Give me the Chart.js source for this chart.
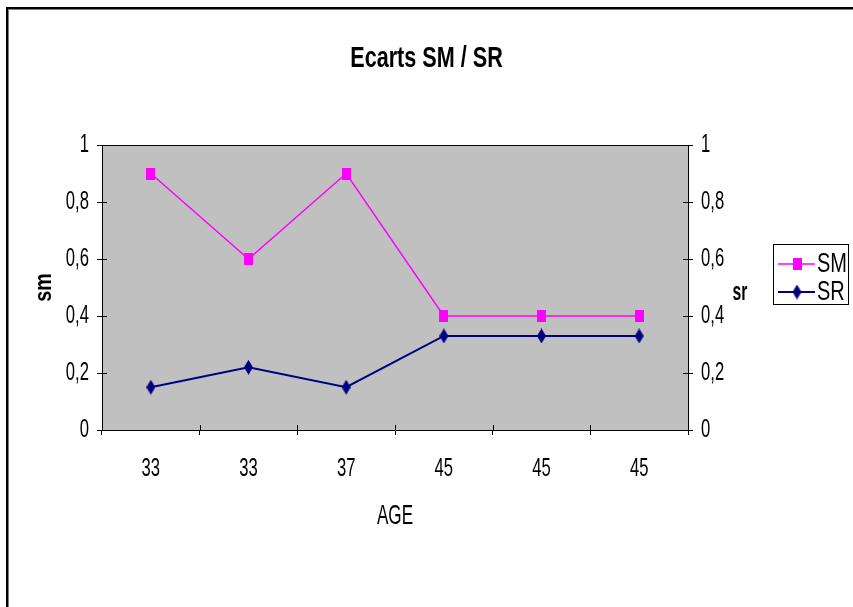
<!DOCTYPE html>
<html>
<head>
<meta charset="utf-8">
<script src="https://cdn.jsdelivr.net/npm/chart.js@4/dist/chart.umd.min.js"></script>
<style>
  html, body { margin: 0; padding: 0; background: #fff; }
  canvas { display: block; }
</style>
</head>
<body>
<canvas id="myChart" width="853" height="607"></canvas>
<script>
const ageLabels = ["33", "33", "37", "45", "45", "45"];
const smValues = [0.9, 0.6, 0.9, 0.4, 0.4, 0.4];
const srValues = [0.15, 0.22, 0.15, 0.33, 0.33, 0.33];
const yTickLabels = ["0", "0,2", "0,4", "0,6", "0,8", "1"];
const seriesNames = ["SM", "SR"];

const smColor = '#ff00ff'
const srColor = '#000080'
const plotGray = '#c0c0c0'
const fontName = '"Liberation Sans", Arial, sans-serif'

// no narrow font installed: squeeze text horizontally around its anchor,
// amount picked by font size (each text kind has its own size)
const squashBySize = { 30: 0.72, 26: 0.64, 28: 0.61, 27: 0.74, 25: 0.63, 24: 0.82 }
const canvas = document.getElementById('myChart')
const ctx2d = canvas.getContext('2d')
const plainFillText = ctx2d.fillText.bind(ctx2d)
ctx2d.fillText = function (text, x, y) {
  const m = /(\d+)px/.exec(this.font)
  const sx = (m && squashBySize[m[1]]) || 0.7
  this.save()
  this.translate(x, y)
  this.scale(sx, 1)
  plainFillText(text, 0, 0)
  this.restore()
}

// excel-like markers, a bit taller than wide
function squareMarker(color) {
  const c = document.createElement('canvas')
  c.width = 9; c.height = 12
  const ctx = c.getContext('2d')
  ctx.fillStyle = color
  ctx.fillRect(0, 0, 9, 12)
  return c
}
function diamondMarker(color) {
  const c = document.createElement('canvas')
  c.width = 9; c.height = 15
  const ctx = c.getContext('2d')
  ctx.fillStyle = color
  ctx.beginPath()
  ctx.moveTo(4.5, 0); ctx.lineTo(9, 7.5); ctx.lineTo(4.5, 15); ctx.lineTo(0, 7.5)
  ctx.closePath()
  ctx.fill()
  return c
}

const pageFrame = {
  id: 'pageFrame',
  beforeDraw(chart) {
    const {ctx, chartArea: a} = chart
    ctx.save()
    ctx.fillStyle = '#000'
    ctx.fillRect(6, 7, chart.width, 2)
    ctx.fillRect(6, 7, 2, chart.height)
    ctx.fillStyle = '#808080'
    ctx.fillRect(8, 9, chart.width, 1)
    ctx.fillRect(8, 9, 1, chart.height)
    ctx.fillStyle = plotGray
    ctx.fillRect(a.left, a.top, a.right - a.left, a.bottom - a.top)
    ctx.restore()
  }
}

const plotEdges = {
  id: 'plotEdges',
  beforeDatasetsDraw(chart) {
    const {ctx, chartArea: a, scales} = chart
    ctx.save()
    ctx.strokeStyle = '#000'
    ctx.lineWidth = 1
    ctx.beginPath()
    ctx.moveTo(a.left, Math.round(a.top) + 0.5)
    ctx.lineTo(a.right, Math.round(a.top) + 0.5)
    const step = (a.right - a.left) / ageLabels.length
    for (let i = 1; i < ageLabels.length; i++) {
      const x = Math.round(a.left + i * step) + 0.5
      ctx.moveTo(x, a.bottom)
      ctx.lineTo(x, a.bottom - 5)
    }
    scales.y.ticks.forEach(t => {
      const y = Math.round(scales.y.getPixelForValue(t.value)) + 0.5
      ctx.moveTo(a.left, y); ctx.lineTo(a.left + 5, y)
      ctx.moveTo(a.right, y); ctx.lineTo(a.right - 5, y)
    })
    ctx.stroke()
    ctx.restore()
  }
}

const boxLegend = {
  id: 'boxLegend',
  afterDraw(chart) {
    const {ctx, chartArea: a} = chart
    const bx = a.right + 85, by = 244
    const midY = (a.top + a.bottom) / 2
    ctx.save()
    ctx.fillStyle = '#fff'
    ctx.fillRect(bx, by, 75, 60)
    ctx.strokeStyle = '#000'
    ctx.lineWidth = 1
    ctx.strokeRect(bx + 0.5, by + 0.5, 75, 60)
    chart.data.datasets.forEach((ds, i) => {
      const y = by + 20 + i * 28
      ctx.strokeStyle = ds.borderColor
      ctx.lineWidth = ds.borderWidth
      ctx.beginPath()
      ctx.moveTo(bx + 5, y); ctx.lineTo(bx + 42, y)
      ctx.stroke()
      ctx.drawImage(ds.pointStyle, bx + 24 - ds.pointStyle.width / 2, y - ds.pointStyle.height / 2)
      ctx.fillStyle = '#000'
      ctx.font = '27px ' + fontName
      ctx.textBaseline = 'middle'
      ctx.textAlign = 'left'
      ctx.fillText(ds.label, bx + 44, y + 1)
    })
    // axis titles: sm reads upward, sr stays upright
    ctx.textAlign = 'center'
    ctx.font = 'bold 25px ' + fontName
    ctx.fillText('sr', a.right + 52, midY + 6)
    ctx.font = 'bold 24px ' + fontName
    ctx.translate(44, midY)
    ctx.rotate(-Math.PI / 2)
    ctx.fillText('sm', 0, 0)
    ctx.restore()
  }
}

const tickFont = { family: fontName, size: 26 }

new Chart("myChart", {
  type: "line",
  data: {
    labels: ageLabels,
    datasets: [{
      label: seriesNames[0],
      data: smValues,
      borderColor: smColor,
      backgroundColor: smColor,
      borderWidth: 1.5,
      pointStyle: squareMarker(smColor),
      tension: 0,
      yAxisID: 'y'
    }, {
      label: seriesNames[1],
      data: srValues,
      borderColor: srColor,
      backgroundColor: srColor,
      borderWidth: 2,
      pointStyle: diamondMarker(srColor),
      tension: 0,
      yAxisID: 'y2'
    }]
  },
  plugins: [pageFrame, plotEdges, boxLegend],
  options: {
    responsive: false,
    animation: false,
    layout: { padding: 0 },
    plugins: {
      legend: { display: false },
      tooltip: { enabled: false },
      title: {
        display: true,
        text: "Ecarts SM / SR",
        color: '#000',
        font: { family: fontName, size: 30, weight: 'bold', lineHeight: 1.2 },
        padding: { top: 41, bottom: 68 }
      }
    },
    scales: {
      x: {
        offset: true,
        grid: { offset: true, drawOnChartArea: false, color: '#000', tickLength: 5 },
        border: { color: '#000' },
        ticks: { color: '#000', padding: 18, font: tickFont, maxRotation: 0 },
        title: { display: true, text: 'AGE', color: '#000', font: { family: fontName, size: 28 }, padding: { top: 0, bottom: 74 } },
        afterFit: s => { s.height = 177 }
      },
      y: {
        position: 'left',
        min: 0, max: 1,
        grid: { drawOnChartArea: false, color: '#000', tickLength: 5 },
        border: { color: '#000' },
        ticks: { stepSize: 0.2, color: '#000', padding: 8, font: tickFont, callback: (v, i) => yTickLabels[i] },
        afterFit: s => { s.width = 102 }
      },
      y2: {
        position: 'right',
        min: 0, max: 1,
        grid: { drawOnChartArea: false, color: '#000', tickLength: 5 },
        border: { color: '#000' },
        ticks: { stepSize: 0.2, color: '#000', padding: 8, font: tickFont, callback: (v, i) => yTickLabels[i] },
        afterFit: s => { s.width = 165 }
      }
    }
  }
});
</script>
</body>
</html>
